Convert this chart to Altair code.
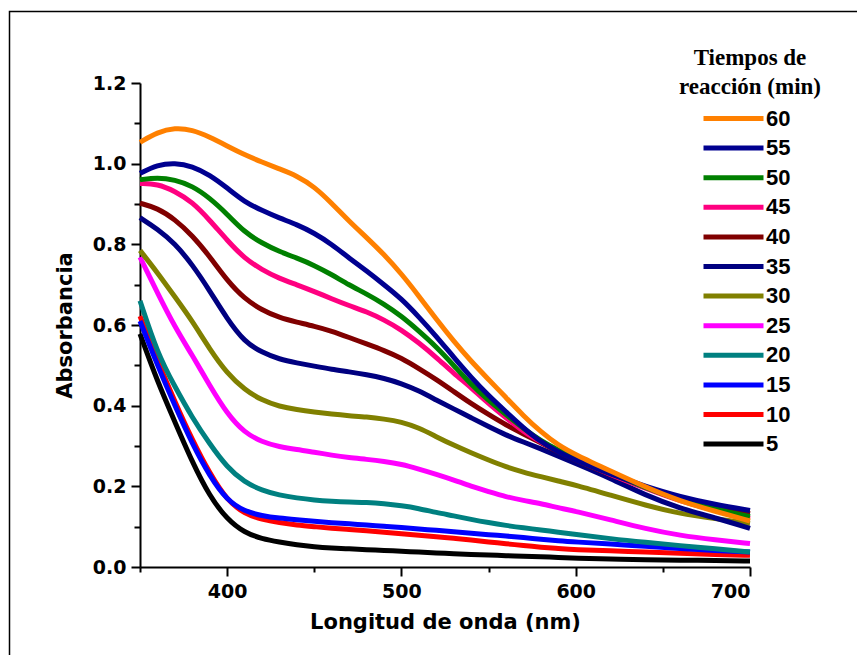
import altair as alt
import pandas as pd

wavelength = [350, 360, 370, 380, 390, 400, 410, 420, 430, 440, 450, 460, 470, 480, 490,
              500, 510, 520, 530, 540, 550, 560, 570, 580, 590, 600, 620, 640, 660, 680, 700]

times = ["60", "55", "50", "45", "40", "35", "30", "25", "20", "15", "10", "5"]
colors = ["#FF8000", "#000090", "#008000", "#FF0080", "#800000", "#000080",
          "#808000", "#FF00FF", "#008080", "#0000FF", "#FF0000", "#000000"]

abs_60 = [1.053, 1.078, 1.089, 1.084, 1.066, 1.044, 1.022, 1.004, 0.987, 0.970, 0.943, 0.902, 0.857, 0.817, 0.775,
          0.727, 0.672, 0.614, 0.560, 0.510, 0.465, 0.420, 0.375, 0.335, 0.302, 0.278, 0.238, 0.198, 0.163, 0.138, 0.114]
abs_55 = [0.976, 0.997, 1.002, 0.994, 0.972, 0.940, 0.905, 0.884, 0.865, 0.849, 0.828, 0.800, 0.766, 0.734, 0.700,
          0.665, 0.620, 0.572, 0.520, 0.470, 0.425, 0.385, 0.345, 0.310, 0.285, 0.265, 0.230, 0.200, 0.174, 0.155, 0.140]
abs_50 = [0.960, 0.966, 0.960, 0.945, 0.915, 0.875, 0.830, 0.803, 0.782, 0.766, 0.748, 0.725, 0.699, 0.677, 0.652,
          0.622, 0.585, 0.546, 0.500, 0.452, 0.413, 0.378, 0.343, 0.313, 0.289, 0.270, 0.232, 0.197, 0.165, 0.143, 0.125]
abs_45 = [0.951, 0.950, 0.932, 0.905, 0.860, 0.810, 0.765, 0.737, 0.715, 0.700, 0.683, 0.665, 0.648, 0.633, 0.613,
          0.588, 0.556, 0.520, 0.480, 0.445, 0.405, 0.370, 0.335, 0.310, 0.287, 0.267, 0.229, 0.195, 0.163, 0.140, 0.120]
abs_40 = [0.902, 0.890, 0.862, 0.822, 0.770, 0.710, 0.665, 0.637, 0.618, 0.607, 0.597, 0.585, 0.569, 0.553, 0.537,
          0.518, 0.492, 0.465, 0.435, 0.405, 0.378, 0.352, 0.330, 0.308, 0.285, 0.265, 0.228, 0.198, 0.168, 0.150, 0.132]
abs_35 = [0.866, 0.838, 0.802, 0.750, 0.685, 0.615, 0.558, 0.532, 0.515, 0.506, 0.498, 0.490, 0.484, 0.477, 0.468,
          0.455, 0.437, 0.414, 0.392, 0.370, 0.348, 0.327, 0.310, 0.293, 0.275, 0.257, 0.220, 0.178, 0.145, 0.122, 0.096]
abs_30 = [0.785, 0.730, 0.670, 0.610, 0.540, 0.480, 0.440, 0.413, 0.398, 0.390, 0.384, 0.379, 0.375, 0.372, 0.367,
          0.360, 0.345, 0.323, 0.302, 0.283, 0.265, 0.248, 0.235, 0.224, 0.213, 0.203, 0.178, 0.153, 0.132, 0.120, 0.108]
abs_25 = [0.768, 0.680, 0.595, 0.525, 0.450, 0.380, 0.333, 0.310, 0.298, 0.291, 0.285, 0.277, 0.271, 0.267, 0.262,
          0.255, 0.243, 0.230, 0.216, 0.200, 0.187, 0.174, 0.165, 0.157, 0.147, 0.138, 0.117, 0.095, 0.078, 0.067, 0.058]
abs_20 = [0.660, 0.530, 0.447, 0.370, 0.305, 0.247, 0.210, 0.190, 0.178, 0.171, 0.166, 0.163, 0.161, 0.160, 0.157,
          0.152, 0.145, 0.135, 0.127, 0.118, 0.110, 0.103, 0.097, 0.092, 0.086, 0.081, 0.070, 0.061, 0.053, 0.045, 0.037]
abs_15 = [0.610, 0.500, 0.400, 0.305, 0.225, 0.165, 0.138, 0.127, 0.121, 0.117, 0.113, 0.110, 0.107, 0.104, 0.101,
          0.098, 0.094, 0.091, 0.087, 0.084, 0.080, 0.077, 0.073, 0.069, 0.065, 0.062, 0.057, 0.051, 0.046, 0.041, 0.037]
abs_10 = [0.622, 0.512, 0.410, 0.315, 0.232, 0.165, 0.132, 0.118, 0.110, 0.104, 0.100, 0.096, 0.093, 0.090, 0.086,
          0.082, 0.079, 0.075, 0.071, 0.067, 0.062, 0.058, 0.053, 0.049, 0.046, 0.043, 0.040, 0.037, 0.034, 0.031, 0.029]
abs_5 = [0.578, 0.460, 0.360, 0.260, 0.175, 0.118, 0.085, 0.070, 0.062, 0.055, 0.050, 0.047, 0.045, 0.043, 0.041,
         0.039, 0.037, 0.035, 0.033, 0.031, 0.030, 0.028, 0.027, 0.025, 0.024, 0.022, 0.020, 0.018, 0.017, 0.016, 0.015]

series = {"60": abs_60, "55": abs_55, "50": abs_50, "45": abs_45, "40": abs_40, "35": abs_35,
          "30": abs_30, "25": abs_25, "20": abs_20, "15": abs_15, "10": abs_10, "5": abs_5}

x_ticks = [350, 400, 450, 500, 550, 600, 650, 700]
y_ticks = [0.0, 0.1, 0.2, 0.3, 0.4, 0.5, 0.6, 0.7, 0.8, 0.9, 1.0, 1.1, 1.2]
legend_title = ["Tiempos de", "reacción (min)"]

rows = []
for t in reversed(times):  # draw 5 first, 60 last (on top)
    for w, a in zip(wavelength, series[t]):
        rows.append({"wl": w, "A": a, "t": t})
df = pd.DataFrame(rows)

AX_FONT = "DejaVu Sans"

lines = alt.Chart(df).mark_line(strokeWidth=5, interpolate="basis", strokeJoin="round").encode(
    x=alt.X("wl:Q",
            scale=alt.Scale(domain=[350, 700], nice=False, zero=False),
            axis=alt.Axis(title="Longitud de onda (nm)", values=x_ticks,
                          labelExpr="datum.value % 100 === 0 ? datum.label : ''",
                          tickSize={"condition": {"test": "datum.value % 100 === 0", "value": 9}, "value": 5},
                          labelPadding=6, titlePadding=10)),
    y=alt.Y("A:Q",
            scale=alt.Scale(domain=[0, 1.2], nice=False),
            axis=alt.Axis(title="Absorbancia", values=y_ticks,
                          labelExpr="round(datum.value*10) % 2 === 0 ? format(datum.value, '.1f') : ''",
                          tickSize={"condition": {"test": "round(datum.value*10) % 2 === 0", "value": 9}, "value": 6},
                          labelPadding=5, titlePadding=17)),
    color=alt.Color("t:N",
                    scale=alt.Scale(domain=times, range=colors),
                    legend=alt.Legend(title=None, orient="none", legendX=581, legendY=23,
                                      symbolType="M-3,0H3", symbolSize=400, symbolStrokeWidth=5,
                                      labelOffset=20, rowPadding=5.6, padding=0,
                                      labelFont="Liberation Sans", labelFontSize=22, labelFontWeight="bold",
                                      labelColor="black")),
)

title_text = alt.Chart(pd.DataFrame({"k": [0]})).mark_text(
    font="Liberation Serif", fontSize=23, fontWeight="bold", align="center",
    baseline="alphabetic", lineHeight=29, color="black"
).encode(x=alt.value(610), y=alt.value(-18), text=alt.value(legend_title))

frame = alt.Chart(pd.DataFrame({"k": [0]})).mark_rect(
    fill="transparent", stroke="black", strokeWidth=1.5
).encode(x=alt.value(-130.5), x2=alt.value(800), y=alt.value(-71.5), y2=alt.value(650))

chart = alt.layer(frame, lines, title_text).properties(
    width=610, height=484,
    autosize=alt.AutoSizeParams(type="none"),
    padding={"left": 140, "top": 83, "right": 107, "bottom": 88},
    background="white",
).configure_view(stroke=None).configure_axis(
    domainColor="black", domainWidth=2, tickColor="black", tickWidth=2, grid=False,
    labelFont=AX_FONT, labelFontSize=19, labelFontWeight="bold", labelColor="black",
    titleFont=AX_FONT, titleFontSize=21, titleFontWeight="bold", titleColor="black",
)

chart.save("out.html", embed_options={"renderer": "svg", "actions": False})
